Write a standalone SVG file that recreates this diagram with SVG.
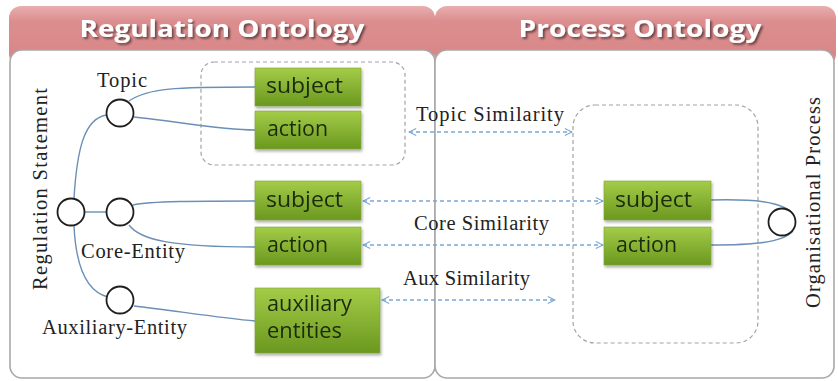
<svg xmlns="http://www.w3.org/2000/svg" width="838" height="381" viewBox="0 0 838 381">
  <defs>
    <linearGradient id="hdr" x1="0" y1="0" x2="0" y2="1">
      <stop offset="0" stop-color="#e9aeae"/>
      <stop offset="0.25" stop-color="#dc8e8f"/>
      <stop offset="1" stop-color="#d78586"/>
    </linearGradient>
    <linearGradient id="grn" x1="0" y1="0" x2="0" y2="1">
      <stop offset="0" stop-color="#a4cc48"/>
      <stop offset="1" stop-color="#6a981f"/>
    </linearGradient>
    <filter id="sh" x="-10%" y="-10%" width="130%" height="140%">
      <feGaussianBlur in="SourceAlpha" stdDeviation="1.5"/>
      <feOffset dx="1" dy="2"/>
      <feComponentTransfer><feFuncA type="linear" slope="0.35"/></feComponentTransfer>
      <feMerge><feMergeNode/><feMergeNode in="SourceGraphic"/></feMerge>
    </filter>
    <filter id="tsh" x="-5%" y="-20%" width="110%" height="150%">
      <feGaussianBlur in="SourceAlpha" stdDeviation="0.8"/>
      <feOffset dx="1.5" dy="1.5"/>
      <feComponentTransfer><feFuncA type="linear" slope="0.5"/></feComponentTransfer>
      <feMerge><feMergeNode/><feMergeNode in="SourceGraphic"/></feMerge>
    </filter>
    <marker id="chev" viewBox="0 0 10 10" refX="9" refY="5" markerWidth="9" markerHeight="12" markerUnits="userSpaceOnUse" orient="auto-start-reverse">
      <path d="M1,1 L9,5 L1,9" fill="none" stroke="#7aa6d2" stroke-width="1.2"/>
    </marker>
  </defs>
  <style>
    .header { fill: url(#hdr); }
    .body { fill: #ffffff; stroke: #a8a8a8; stroke-width: 1.6; }
    .title { font-family: "Open Sans", "Liberation Sans", sans-serif; font-weight: bold; font-size: 23px; fill: #ffffff; }
    .group { fill: none; stroke: #a3a3a3; stroke-width: 1.2; stroke-dasharray: 4 3; }
    .box { fill: url(#grn); stroke: #7fa43a; stroke-width: 0.6; }
    .boxtxt { font-family: "Open Sans", "Liberation Sans", sans-serif; font-size: 21px; fill: #1d2a0c; }
    .lbl { font-family: "Liberation Serif", "DejaVu Serif", serif; font-size: 20.5px; fill: #222222; }
    .circ { fill: #ffffff; stroke: #1e1e1e; stroke-width: 1.8; }
    .link { fill: none; stroke: #6b8fb6; stroke-width: 1.4; }
    .sim { fill: none; stroke: #7aa6d2; stroke-width: 1.3; stroke-dasharray: 4 3; marker-start: url(#chev); marker-end: url(#chev); }
  </style>

  <!-- panels -->
  <g id="regulation-panel">
    <rect class="header" x="9" y="6" width="426" height="60" rx="12"/>
    <rect class="body" x="10" y="50" width="425" height="328" rx="12"/>
    <text class="title" x="222" y="37" text-anchor="middle" textLength="285" lengthAdjust="spacingAndGlyphs" filter="url(#tsh)">Regulation Ontology</text>
  </g>
  <g id="process-panel">
    <rect class="header" x="435" y="6" width="401" height="60" rx="12"/>
    <rect class="body" x="435" y="50" width="399" height="328" rx="12"/>
    <text class="title" x="640" y="37" text-anchor="middle" textLength="243" lengthAdjust="spacingAndGlyphs" filter="url(#tsh)">Process Ontology</text>
  </g>

  <!-- dashed groupings -->
  <g id="topic-group"><rect class="group" x="201" y="62" width="204" height="103" rx="13"/></g>
  <g id="process-group"><rect class="group" x="573" y="105" width="185" height="238" rx="22"/></g>

  <!-- connectors -->
  <g id="connectors">
    <path class="link" d="M74 198 C77 150 84 118 107 115"/>
    <path class="link" d="M85 212 L106 212"/>
    <path class="link" d="M74 226 C76 268 88 292 108 297"/>
    <path class="link" d="M129 101 C148 88 175 87 255 87"/>
    <path class="link" d="M134 117 C175 121 220 130 255 130"/>
    <path class="link" d="M133 205 C150 201 200 201 255 201"/>
    <path class="link" d="M129 225 C140 240 172 247 255 247"/>
    <path class="link" d="M134 306 C170 310 220 318 255 321"/>
    <path class="link" d="M711 200 C752 199 782 201 793 214"/>
    <path class="link" d="M711 245 C752 245 782 243 793 231"/>
    <path class="sim" d="M409 132 L572 132"/>
    <path class="sim" d="M363 201 L603 201"/>
    <path class="sim" d="M363 245 L603 245"/>
    <path class="sim" d="M382 300 L555 300"/>
    <text class="lbl" x="416" y="121" textLength="148">Topic Similarity</text>
    <text class="lbl" x="414" y="230" textLength="135">Core Similarity</text>
    <text class="lbl" x="403" y="285" textLength="127">Aux Similarity</text>
  </g>

  <!-- statement nodes -->
  <g id="regulation-statement">
    <circle class="circ" cx="71" cy="212" r="13.5"/>
    <text class="lbl" transform="translate(47,290) rotate(-90)" textLength="202">Regulation Statement</text>
  </g>
  <g id="topic">
    <circle class="circ" cx="120" cy="113" r="13.5"/>
    <text class="lbl" x="97" y="87" textLength="50">Topic</text>
  </g>
  <g id="core-entity">
    <circle class="circ" cx="120" cy="212" r="13.5"/>
    <text class="lbl" x="81" y="258" textLength="104">Core-Entity</text>
  </g>
  <g id="auxiliary-entity">
    <circle class="circ" cx="120" cy="300" r="13.5"/>
    <text class="lbl" x="42" y="334" textLength="145">Auxiliary-Entity</text>
  </g>
  <g id="organisational-process">
    <circle class="circ" cx="782" cy="222" r="13.5"/>
    <text class="lbl" transform="translate(820,308) rotate(-90)" textLength="211">Organisational Process</text>
  </g>

  <!-- element boxes -->
  <g id="topic-subject" filter="url(#sh)">
    <rect class="box" x="255" y="68" width="106" height="38"/>
    <text class="boxtxt" x="266" y="93" textLength="77" lengthAdjust="spacingAndGlyphs">subject</text>
  </g>
  <g id="topic-action" filter="url(#sh)">
    <rect class="box" x="255" y="111" width="106" height="38"/>
    <text class="boxtxt" x="267" y="136" textLength="61" lengthAdjust="spacingAndGlyphs">action</text>
  </g>
  <g id="core-subject" filter="url(#sh)">
    <rect class="box" x="255" y="181" width="106" height="39"/>
    <text class="boxtxt" x="266" y="207" textLength="77" lengthAdjust="spacingAndGlyphs">subject</text>
  </g>
  <g id="core-action" filter="url(#sh)">
    <rect class="box" x="255" y="227" width="106" height="38"/>
    <text class="boxtxt" x="267" y="252" textLength="61" lengthAdjust="spacingAndGlyphs">action</text>
  </g>
  <g id="auxiliary-entities" filter="url(#sh)">
    <rect class="box" x="255" y="288" width="125" height="65"/>
    <text class="boxtxt" x="267" y="311" textLength="85" lengthAdjust="spacingAndGlyphs">auxiliary</text>
    <text class="boxtxt" x="267" y="338" textLength="75" lengthAdjust="spacingAndGlyphs">entities</text>
  </g>
  <g id="process-subject" filter="url(#sh)">
    <rect class="box" x="604" y="181" width="107" height="39"/>
    <text class="boxtxt" x="615" y="207" textLength="77" lengthAdjust="spacingAndGlyphs">subject</text>
  </g>
  <g id="process-action" filter="url(#sh)">
    <rect class="box" x="604" y="227" width="107" height="38"/>
    <text class="boxtxt" x="616" y="252" textLength="61" lengthAdjust="spacingAndGlyphs">action</text>
  </g>
</svg>
